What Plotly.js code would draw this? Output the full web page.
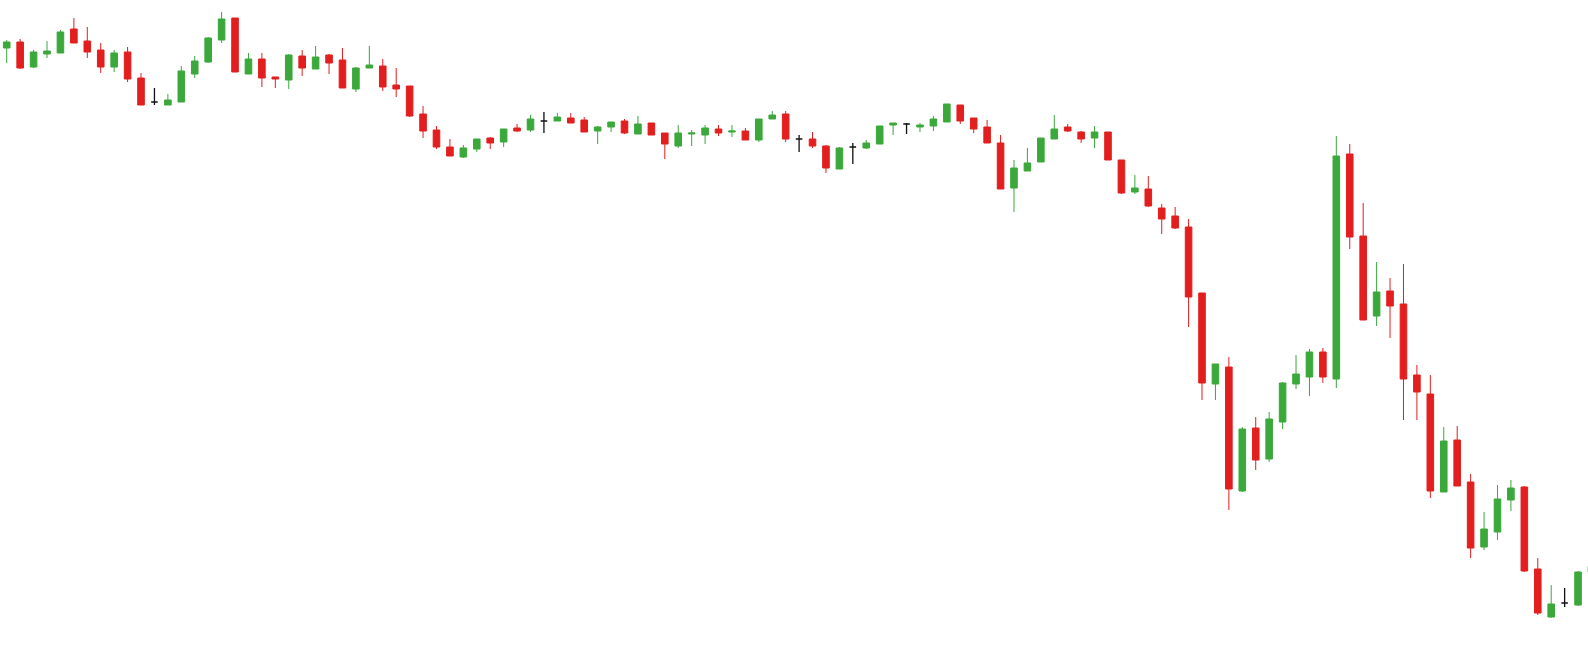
<!DOCTYPE html>
<html><head><meta charset="utf-8">
<script src="https://cdn.plot.ly/plotly-3.0.1.min.js"></script>
<style>html,body{margin:0;padding:0;background:#fff}#c{width:1588px;height:665px}</style>
</head><body><div id="c"></div>
<script>
const openP = [617,623,598,611,612,636,624,615,598,613,587,563,560,563,591,603,625,647,591,606,
588,585,609,596,610,605,576,597,599,580,579,551,535,518,508,516,527,523,537,535,
544,544,547,545,534,538,544,531,542,532,519,531,530,536,533,534,525,546,551,526,
526,519,496,518,517,521,540,541,538,539,543,560,547,538,522,477,494,503,526,538,
533,527,533,505,473,476,457,449,438,372,281,298,174,237,206,243,281,288,313,286,
511,429,349,374,361,290,271,173,225,183,118,133,165,178,96,48,62,60,93];
const closeP = [623,597,613,614,633,622,613,598,612,586,560,563,565,594,604,627,646,593,606,587,
586,610,597,608,602,577,597,600,578,576,549,534,518,509,517,526,522,536,534,546,
544,548,542,533,538,543,532,541,530,521,532,532,537,532,534,525,546,550,526,526,
519,497,517,518,522,539,542,541,540,546,561,544,536,522,476,497,502,527,536,534,
526,533,505,472,477,459,446,437,368,282,301,176,236,205,246,282,291,313,288,509,
428,345,373,359,286,273,174,224,179,117,136,166,177,94,52,61,62,93,99];
const highP = [625,626,615,624,635,647,638,622,615,618,592,577,571,599,609,628,653,647,612,612,
588,611,615,619,611,617,598,619,606,597,579,559,539,526,520,526,528,536,541,550,
553,552,552,548,539,543,546,549,542,532,540,535,540,540,540,537,546,554,554,530,
533,520,518,522,525,539,542,542,542,549,561,560,547,545,530,505,517,527,550,541,
534,539,533,505,490,489,461,458,446,372,301,308,238,248,253,283,310,316,317,529,
521,462,403,387,401,300,290,238,239,191,153,180,185,179,107,80,77,94,100];
const lowP = [602,596,597,607,612,622,607,592,593,583,560,560,560,563,587,602,622,593,591,578,
577,576,589,596,591,577,573,597,574,568,548,527,516,509,507,513,516,518,533,533,
532,544,542,533,521,533,531,531,530,506,517,519,521,529,528,525,523,546,523,513,
517,492,496,501,516,521,530,531,533,534,543,541,532,522,476,453,494,503,526,533,
522,517,505,471,471,458,431,436,338,265,265,155,173,195,203,236,276,269,282,277,
416,345,339,327,245,245,167,173,179,107,115,125,154,93,50,47,58,59,92];

const idx = openP.map((_, i) => i);
const isDoji = i => openP[i] === closeP[i];
function pick(f){ const ids = idx.filter(f); return {
  x: ids, open: ids.map(i=>openP[i]), high: ids.map(i=>highP[i]), low: ids.map(i=>lowP[i]), close: ids.map(i=>closeP[i]) }; }
const main = pick(i => !isDoji(i));
const doji = pick(isDoji);
const GREEN = '#3aa83a', RED = '#e31e1e';
const traces = [
  Object.assign({type:'candlestick', whiskerwidth:0, hoverinfo:'none',
    increasing:{line:{color:GREEN,width:1}, fillcolor:GREEN},
    decreasing:{line:{color:RED,width:1}, fillcolor:RED}}, main),
  Object.assign({type:'candlestick', whiskerwidth:0, hoverinfo:'none',
    increasing:{line:{color:'#111',width:1.3}, fillcolor:'#111'},
    decreasing:{line:{color:'#111',width:1.3}, fillcolor:'#111'}}, doji)
];
const layout = {
  width:1588, height:665, margin:{l:0,r:0,t:0,b:0},
  paper_bgcolor:'#fff', plot_bgcolor:'#fff', showlegend:false,
  boxmode:'overlay',
  xaxis:{range:[-0.5,117.74], visible:false, rangeslider:{visible:false}, fixedrange:true},
  yaxis:{range:[0,665], visible:false, fixedrange:true}
};
Plotly.newPlot('c', traces, layout, {staticPlot:true});
</script></body></html>
